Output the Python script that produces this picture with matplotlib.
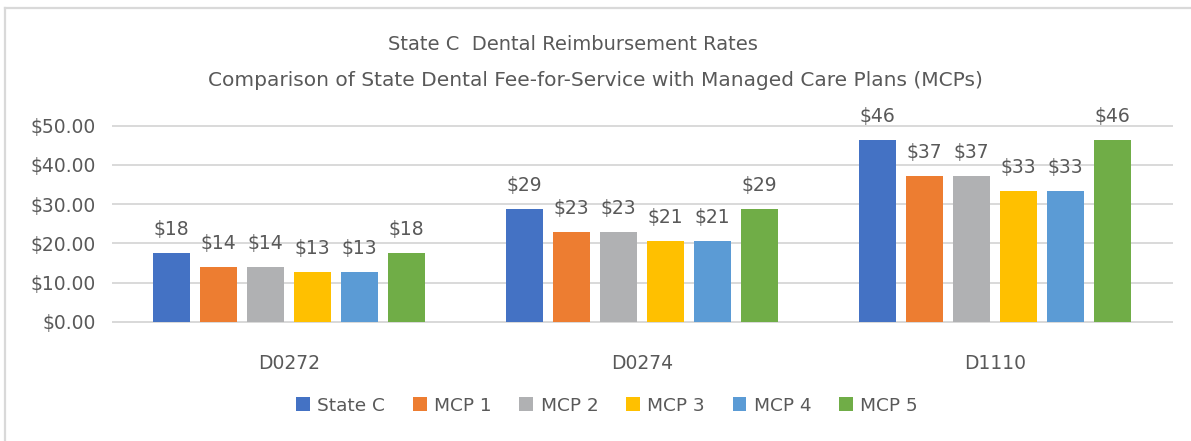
import matplotlib
matplotlib.use("Agg")
import matplotlib.pyplot as plt
import numpy as np
from matplotlib.lines import Line2D

categories = ["D0272", "D0274", "D1110"]
series_names = ["State C", "MCP 1", "MCP 2", "MCP 3", "MCP 4", "MCP 5"]
state_c = [17.55, 28.8, 46.3]
mcp1 = [14.0, 23.0, 37.1]
mcp2 = [14.0, 23.0, 37.1]
mcp3 = [12.6, 20.7, 33.3]
mcp4 = [12.6, 20.7, 33.3]
mcp5 = [17.55, 28.8, 46.3]
series_values = [state_c, mcp1, mcp2, mcp3, mcp4, mcp5]
colors = ["#4472C4", "#ED7D31", "#B0B1B3", "#FFC000", "#5B9BD5", "#70AD47"]
yticks = [0, 10, 20, 30, 40, 50]
ytick_labels = ["$0.00", "$10.00", "$20.00", "$30.00", "$40.00", "$50.00"]

plt.rcParams['font.family'] = ['DejaVu Sans']
txt = "#595959"

fig = plt.figure(figsize=(11.91, 4.41), dpi=100)
bx = 5 / 1191
by = 1 - 8 / 441
fig.add_artist(Line2D([bx, 1.0], [by, by], transform=fig.transFigure, color="#d9d9d9", linewidth=1.6))
fig.add_artist(Line2D([bx, bx], [0.0, by], transform=fig.transFigure, color="#d9d9d9", linewidth=1.6))

ax = fig.add_axes([112.7/1191, 119.3/441, 1059/1191, 196/441])
x = np.arange(len(categories))
pitch = 47/353
width = 37/353
for i, (name, vals, c) in enumerate(zip(series_names, series_values, colors)):
    pos = x + (i - 2.5) * pitch
    ax.bar(pos, vals, width, color=c, label=name, zorder=3)
    for p, v in zip(pos, vals):
        ax.annotate(f"${v:.0f}", (p, v), xytext=(0, 10), textcoords="offset points",
                    ha="center", va="bottom", fontsize=13.5, color=txt)

ax.set_xlim(-0.5, 2.5)
ax.set_ylim(0, 50)
ax.set_yticks(yticks)
ax.set_yticklabels(ytick_labels)
ax.set_xticks(x)
ax.set_xticklabels(categories)
ax.tick_params(axis="both", length=0, labelsize=13.5, labelcolor=txt)
ax.tick_params(axis="x", pad=23)
ax.tick_params(axis="y", pad=12)
ax.grid(axis="y", color="#d9d9d9", linewidth=1.4, zorder=0)
for gl in ax.get_ygridlines():
    gl.set_clip_on(False)
for s in ["top", "right", "left"]:
    ax.spines[s].set_visible(False)
ax.spines["bottom"].set_color("#d9d9d9")
ax.spines["bottom"].set_linewidth(1.4)

fig.text(573/1191, 1 - 45/441, "State C  Dental Reimbursement Rates", ha="center", va="center",
         fontsize=14, color=txt)
fig.text(595/1191, 1 - 80/441, "Comparison of State Dental Fee-for-Service with Managed Care Plans (MCPs)",
         ha="center", va="center", fontsize=14.5, color=txt)

fig.legend(loc="center", bbox_to_anchor=(607/1191, (441-405.7)/441), ncol=6, frameon=False,
           fontsize=13.3, handlelength=0.75, handleheight=0.75, handletextpad=0.4,
           columnspacing=1.5, labelcolor=txt)

fig.savefig("out.png", dpi=100)
